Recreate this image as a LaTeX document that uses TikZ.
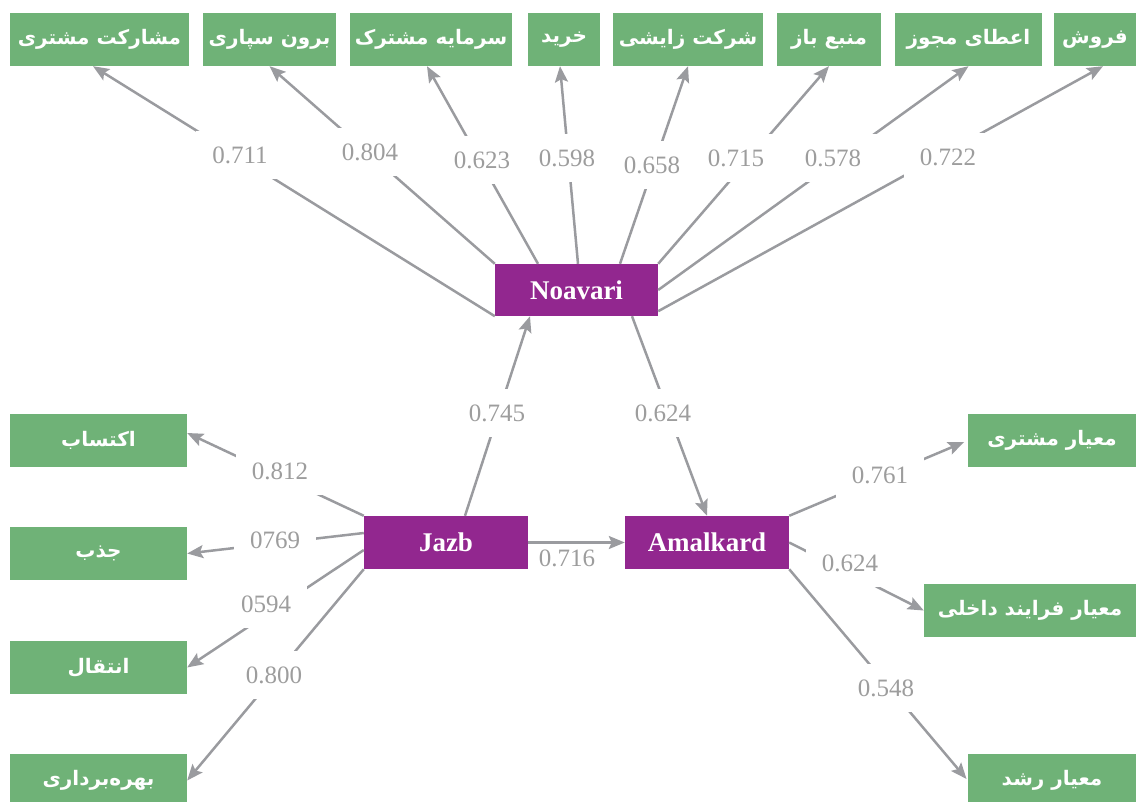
\documentclass[tikz,border=0pt]{standalone}
\usepackage{fontspec}
\setmainfont{Liberation Serif}
\newfontfamily\fafont[Script=Arabic]{DejaVu Sans}
\TeXXeTstate=1
\usetikzlibrary{arrows.meta}

\definecolor{boxgreen}{HTML}{6FB277}
\definecolor{boxpurple}{HTML}{92278F}
\definecolor{linegray}{HTML}{9A9B9F}
\definecolor{numgray}{HTML}{9D9D9D}

% Persian (right-to-left) text, set a little lower in its box
\newcommand{\fa}[1]{\raisebox{-2pt}{\beginR #1\endR}}

\tikzset{
  gbox/.style={fill=boxgreen, text=white, inner sep=0pt, minimum height=53pt,
    font=\fafont\bfseries\fontsize{20}{24}\selectfont},
  pbox/.style={fill=boxpurple, text=white, inner sep=0pt,
    font=\bfseries\fontsize{27}{31}\selectfont},
  conn/.style={draw=linegray, line width=2.5pt,
    -{Stealth[length=16pt, width=13pt, inset=3pt]}},
  num/.style={fill=white, text=numgray, inner xsep=16pt, inner ysep=16pt,
    font=\fontsize{25}{29}\selectfont},
}

\begin{document}
\begin{tikzpicture}[x=1pt, y=-1pt]
\useasboundingbox (0,0) rectangle (1136,802);

% top row of outcome boxes
\node[gbox, minimum width=179pt] (b1) at (99.5,39.5)  {\fa{مشارکت مشتری}};
\node[gbox, minimum width=133pt] (b2) at (269.5,39.5) {\fa{برون سپاری}};
\node[gbox, minimum width=162pt] (b3) at (431,39.5)   {\fa{سرمایه مشترک}};
\node[gbox, minimum width=72pt]  (b4) at (564,39.5)   {\fa{خرید}};
\node[gbox, minimum width=150pt] (b5) at (688,39.5)   {\fa{شرکت زایشی}};
\node[gbox, minimum width=104pt] (b6) at (829,39.5)   {\fa{منبع باز}};
\node[gbox, minimum width=147pt] (b7) at (968.5,39.5) {\fa{اعطای مجوز}};
\node[gbox, minimum width=82pt]  (b8) at (1095,39.5)  {\fa{فروش}};

% left column
\node[gbox, minimum width=177pt] (a1) at (98.5,440.5) {\fa{اکتساب}};
\node[gbox, minimum width=177pt] (a2) at (98.5,553.5) {\fa{جذب}};
\node[gbox, minimum width=177pt] (a3) at (98.5,667.5) {\fa{انتقال}};
\node[gbox, minimum width=177pt] (a4) at (98.5,780.5) {\fa{بهره‌برداری}};

% right column
\node[gbox, minimum width=168pt] (r1) at (1052,440.5) {\fa{معیار مشتری}};
\node[gbox, minimum width=212pt] (r2) at (1030,610.5) {\fa{معیار فرایند داخلی}};
\node[gbox, minimum width=168pt] (r3) at (1052,780.5) {\fa{معیار رشد}};

% central constructs
\node[pbox, minimum width=163pt, minimum height=52pt] (nv) at (576.5,290) {Noavari};
\node[pbox, minimum width=164pt, minimum height=53pt] (jz) at (446,542.5) {Jazb};
\node[pbox, minimum width=164pt, minimum height=53pt] (am) at (707,542.5) {Amalkard};

% Noavari to the top row
\draw[conn] (nv.south west) -- ([xshift=-6.5pt]b1.south);
\draw[conn] (nv.north west) -- (b2.south);
\draw[conn] ([xshift=-38.5pt]nv.north) -- ([xshift=-4pt]b3.south);
\draw[conn] ([xshift=1.5pt]nv.north) -- ([xshift=-4pt]b4.south);
\draw[conn] ([xshift=43.5pt]nv.north) -- (b5.south);
\draw[conn] (nv.north east) -- (b6.south);
\draw[conn] (nv.east) -- (b7.south);
\draw[conn] ([yshift=5pt]nv.south east) -- ([xshift=8pt]b8.south);

% paths between the constructs
\draw[conn] ([xshift=19pt]jz.north) -- ([xshift=-46.5pt]nv.south);
\draw[conn] ([xshift=55.5pt]nv.south) -- (am.north);
\draw[conn] (jz.east) -- (am.west);

% Jazb to the left column
\draw[conn] (jz.north west) -- ([yshift=7.5pt]a1.east);
\draw[conn] ([yshift=9.5pt]jz.west) -- (a2.east);
\draw[conn] ([yshift=-7.5pt]jz.west) -- (a3.east);
\draw[conn] (jz.south west) -- (a4.east);

% Amalkard to the right column
\draw[conn, shorten >=4pt] (am.north east) -- (r1.west);
\draw[conn] (am.east) -- (r2.west);
\draw[conn, shorten >=2pt] (am.south east) -- (r3.west);

% loadings
\node[num] (l1) at (240,155) {0.711};
\node[num] (l2) at (370,152) {0.804};
\node[num] (l3) at (482,160) {0.623};
\node[num] (l4) at (567,158) {0.598};
\node[num] (l5) at (652,165) {0.658};
\node[num] (l6) at (736,158) {0.715};
\node[num] (l7) at (833,158) {0.578};
\node[num] (l8) at (948,157) {0.722};

\node[num] (m1) at (497,413) {0.745};
\node[num] (m2) at (663,413) {0.624};
\node[num, fill=none, inner sep=0pt] (m3) at (567,558) {0.716};

\node[num] (j1) at (280,471) {0.812};
\node[num] (j2) at (275,540) {0769};
\node[num] (j3) at (266,604) {0594};
\node[num] (j4) at (274,675) {0.800};

\node[num] (k1) at (880,475) {0.761};
\node[num] (k2) at (850,563) {0.624};
\node[num] (k3) at (886,688) {0.548};
\end{tikzpicture}
\end{document}
